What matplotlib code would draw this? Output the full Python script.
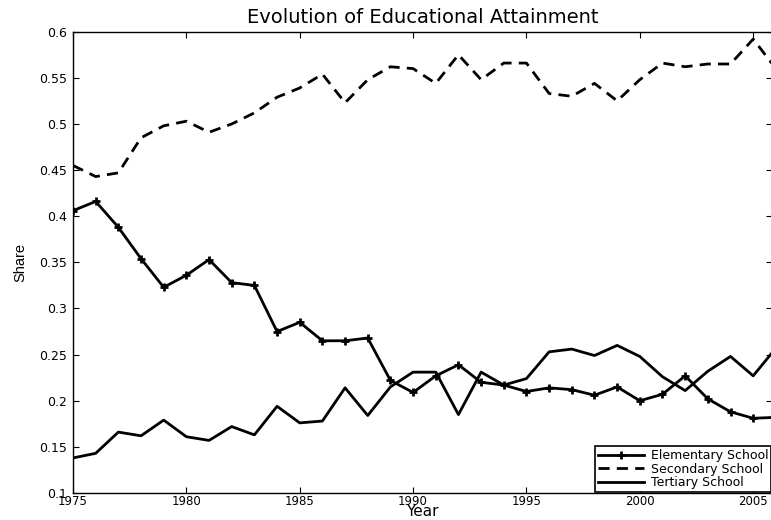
import matplotlib
matplotlib.use("Agg")
import matplotlib.pyplot as plt

years = list(range(1975, 2007))
elementary = [0.406, 0.416, 0.388, 0.354, 0.323, 0.336, 0.353, 0.328, 0.325, 0.275,
              0.285, 0.265, 0.265, 0.268, 0.222, 0.209, 0.227, 0.239, 0.220, 0.217,
              0.210, 0.214, 0.212, 0.206, 0.215, 0.200, 0.207, 0.227, 0.202, 0.188,
              0.181, 0.182]
secondary = [0.455, 0.443, 0.447, 0.485, 0.498, 0.503, 0.491, 0.500, 0.512, 0.529,
             0.539, 0.554, 0.523, 0.548, 0.562, 0.560, 0.544, 0.575, 0.548, 0.566,
             0.566, 0.533, 0.530, 0.544, 0.525, 0.548, 0.566, 0.562, 0.565, 0.565,
             0.592, 0.560]
tertiary = [0.138, 0.143, 0.166, 0.162, 0.179, 0.161, 0.157, 0.172, 0.163, 0.194,
            0.176, 0.178, 0.214, 0.184, 0.215, 0.231, 0.231, 0.185, 0.231, 0.217,
            0.224, 0.253, 0.256, 0.249, 0.260, 0.248, 0.226, 0.211, 0.232, 0.248,
            0.227, 0.257]
xticks = [1975, 1980, 1985, 1990, 1995, 2000, 2005]
yticks = [0.1, 0.15, 0.2, 0.25, 0.3, 0.35, 0.4, 0.45, 0.5, 0.55, 0.6]
ytick_labels = ["0.1", "0.15", "0.2", "0.25", "0.3", "0.35", "0.4", "0.45", "0.5", "0.55", "0.6"]

plt.rcParams['font.family'] = ['DejaVu Sans']

fig = plt.figure(figsize=(7.71, 5.20), dpi=100)
ax = fig.add_axes([73/771, 1 - 493/520, (772 - 73)/771, (493 - 31.7)/520])

ax.plot(years, elementary, color='black', lw=2, marker='+', ms=6, mew=2,
        label='Elementary School')
ax.plot(years, secondary, color='black', lw=2, ls=(0, (4, 2.6)),
        label='Secondary School')
ax.plot(years, tertiary, color='black', lw=2, label='Tertiary School')

ax.set_xlim(1975, 2005.83)
ax.set_ylim(0.1, 0.6)
ax.set_xticks(xticks)
ax.set_xticklabels([str(x) for x in xticks])
ax.set_yticks(yticks)
ax.set_yticklabels(ytick_labels)
ax.tick_params(direction='in', top=True, right=True, length=4, width=0.8,
               labelsize=9)
ax.tick_params(axis='x', pad=1.5, labelsize=8.5)
ax.tick_params(axis='y', pad=4)
for s in ax.spines.values():
    s.set_linewidth(1)

ax.set_title('Evolution of Educational Attainment', fontsize=14, pad=6)
ax.set_xlabel('Year', fontsize=11, labelpad=-3)
ax.set_ylabel('Share', fontsize=10.5, family='Liberation Sans', labelpad=9)

leg = ax.legend(loc='lower right', fontsize=9, handlelength=3.7,
                borderaxespad=0.05, fancybox=False, framealpha=1,
                edgecolor='black', borderpad=0.25, labelspacing=0.05,
                handletextpad=0.5)
leg.get_frame().set_linewidth(1.2)

fig.savefig('out.png', dpi=100)
